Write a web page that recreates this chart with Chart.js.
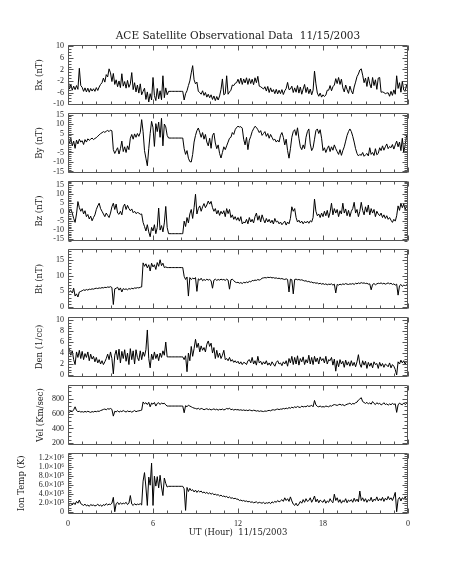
<!DOCTYPE html>
<html>
<head>
<meta charset="utf-8">
<script src="https://cdn.jsdelivr.net/npm/chart.js@4.4.1/dist/chart.umd.min.js"></script>
<style>
  body { margin: 0; background: #fff; }
  #wrap { position: relative; width: 453px; height: 566px; }
  #wrap canvas { position: absolute; left: 0; }
</style>
</head>
<body>
<div id="wrap"></div>
<script>
/* global Chart */
const title = "ACE Satellite Observational Data  11/15/2003";
const xTitle = "UT (Hour)  11/15/2003";
const xTickLabels = ["0", "6", "12", "18", "0"];

// one sample every 0.1 h, 0..24
const hours = [];
for (let i = 0; i <= 240; i++) hours.push(i / 10);

const bx = [
  -1.0, -4.8, -3.2, -5.2, -3.8, -5.0, -3.6, -4.9, 2.4, -3.6,
  -4.2, -5.6, -4.4, -5.8, -4.5, -5.9, -4.6, -5.5, -4.7, -5.6,
  -4.3, -5.3, -4.1, -3.2, -2.6, -1.0, -2.4, 0.2, -0.6, 2.2,
  0.8, -2.2, 0.6, -3.2, -1.6, -4.0, -2.0, -4.3, 0.5, -3.8,
  -2.2, -4.5, -1.8, -4.2, -3.0, 0.9, -5.0, -2.6, -5.8, -3.4,
  -6.2, -3.0, -6.8, -5.6, -4.5, -8.4, -5.8, -9.3, -6.4, -8.6,
  -0.8, -7.0, -8.8, -4.6, -8.2, -5.4, -8.5, -0.2, -7.8, -4.4,
  -6.8, -5.6, -5.6, -5.6, -5.6, -5.6, -5.6, -5.6, -5.6, -5.6,
  -5.6, -5.6, -8.6, -6.4, -5.4, -3.6, -2.0, 0.8, 3.3, -1.6,
  -3.0, -2.4, -5.6, -6.0, -6.6, -5.4, -7.0, -6.0, -7.6, -6.6,
  -7.8, -6.8, -8.4, -7.2, -8.8, -7.4, -8.6, -7.2, -5.0, -1.3,
  -6.8, -6.4, -0.2, -6.6, -5.8, -5.2, -3.4, -3.6, -2.8, -2.6,
  -1.4, -2.9, -1.0, -3.2, -1.3, -2.7, -0.9, -3.2, -1.2, -2.9,
  -1.4, -3.3, -0.9, -2.6, -0.4, -3.8, -4.0, -4.4, -4.8, -4.0,
  -5.5, -3.9, -6.0, -4.4, -5.8, -5.0, -6.4, -4.9, -6.5, -5.2,
  -6.4, -5.0, -6.7, -5.4, -4.6, -2.5, -5.0, -4.8, -3.8, -6.0,
  -4.4, -5.9, -3.6, -6.2, -4.1, -6.6, -4.8, -3.2, -6.0, -4.2,
  -6.4, -4.8, -6.8, -5.2, 1.4, -3.0, -6.2, -7.3, -6.2, -7.6,
  -6.8, -7.4, -6.9, -5.2, -5.2, -3.6, -5.4, -4.0, -3.4, -1.2,
  -2.9, -0.8, -3.2, -1.4, -4.4, -5.8, -3.4, -5.0, -6.3, -3.8,
  -5.4, -6.5, -4.1, -2.4, -0.5, 0.4, 1.8, 2.2, 0.0, -2.6,
  -1.0, -3.9, -0.6, -3.0, -4.4, -0.8, -3.6, -1.6, -4.9, -1.0,
  -0.8, -5.9, -5.8, -6.0, -6.4, -6.2, -6.1, -7.3, -5.6, -7.0,
  -5.1, -6.6, -0.2, -4.6, -2.6, -5.9, -2.1, -5.2, -5.6, -3.2,
  -5.5,
];

const by = [
  3.5, -0.5, 2.5, -1.5, 1.0, -2.8, 1.5, -0.5, 2.0, 0.5,
  1.2, -0.8, 1.8, 0.5, 2.2, 1.4, 2.0, 2.6, 1.8, 2.4,
  2.8, 3.6, 4.2, 5.0, 5.4, 6.0, 5.6, 6.2, 6.6, 6.0,
  6.8, 6.4, -3.5, -5.5, -4.0, -2.5, -5.8, -3.0, 1.0, -4.5,
  -2.0, -5.0, -1.5, -3.5, 2.5, 4.5, 2.0, 4.8, 3.0, 5.0,
  3.5, 5.5, 12.3, 6.0, -4.0, -8.0, -12.0, -3.0, 5.0, 11.4,
  8.0, -1.8, 10.2, 6.0, 11.0, 3.0, 13.0, -1.5, 10.0, 8.5,
  4.0, 2.6, 2.6, 2.6, 2.6, 2.6, 2.6, 2.6, 2.6, 2.6,
  2.6, 2.6, -3.0, -6.0, -4.0, -8.0, -9.8, -10.0, -6.0, 0.5,
  4.0, 6.5, 7.9, 5.5, 3.0, 5.5, 2.0, 4.5, 0.5, -1.5,
  2.5, -2.8, 4.0, 5.2, 0.0, -3.0, -1.0, -5.5, -7.9, -5.0,
  -2.0, -3.5, -1.5, 0.5, 2.5, 3.0, 5.5, 4.5, 7.0, 8.2,
  8.8, 8.4, 8.6, 7.8, 2.0, -1.0, 3.0, -3.5, 1.5, 3.5,
  6.0, 7.5, 8.8, 8.2, 7.0, 5.5, 6.5, 4.0, 5.0, 6.0,
  3.5, 5.0, 2.5, 4.5, 3.0, 1.5, 2.0, 0.5, 1.5, 0.5,
  4.0, 5.5, 3.0, -1.0, 2.0, -4.0, -8.0, -3.0, 3.0, 6.0,
  7.0, 4.0, 8.0, 2.5, -2.0, -3.5, -1.0, -3.0, 3.0, 6.0,
  7.4, -0.5, -4.0, -2.5, 2.0, 6.5, 7.4, 5.0, 7.0, 2.5,
  -4.0, -2.5, -5.0, -3.0, -1.5, -4.5, -2.0, -3.8, -1.0, -3.0,
  -4.5, -6.0, -3.5, -6.5, -4.0, -2.0, 1.0, 4.0, 6.0, 7.4,
  6.0, 3.5, 0.5, -3.0, -5.5, -6.8, -6.0, -6.5, -5.0, -7.0,
  -6.2, -5.5, -6.8, -2.5, -6.0, -5.0, -6.6, -3.0, -6.2, -5.5,
  -2.5, -4.0, -1.5, -3.8, -2.0, -0.5, -3.0, -1.8, -2.5, -0.8,
  -3.2, -1.0, 1.0, -2.0, 0.5, -4.0, 2.5, -5.0, -1.0, 3.8,
  1.5,
];

const bz = [
  1.5, 0.2, 1.8, -0.5, -3.5, -5.7, -1.0, 5.9, 2.5, 0.5,
  2.0, -1.0, 0.8, -2.5, -1.3, -3.8, -2.2, -4.8, -3.0, -1.5,
  1.5, 3.5, 5.0, 2.0, 0.5, -1.0, -2.5, -0.5, -1.8, -3.0,
  -0.5, 3.0, 5.0, 1.5, 4.5, -0.5, -1.2, 0.5, -1.5, 3.0,
  4.5, 1.5, 3.8, 2.0, 0.8, 1.8, -0.3, 0.5, -0.8, -0.2,
  -0.5, -1.2, -1.0, -5.7, -8.0, -10.5, -7.0, -11.0, -13.7, -8.5,
  -10.5, -7.0, -12.0, -8.5, 2.3, -10.0, -7.5, -11.0, -6.0, 3.2,
  -8.5, -12.0, -12.0, -12.0, -12.0, -12.0, -12.0, -12.0, -12.0, -12.0,
  -12.0, -12.0, -5.0, -8.0, -3.0, -6.0, -1.0, 1.5, -3.5, 2.5,
  10.0, -1.0, 2.0, 3.5, 0.5, 3.0, 4.8, 2.5, 4.0, 6.2,
  4.5, 6.0, 2.5, 0.5, 2.0, -1.0, 1.0, -1.8, 0.5, -1.0,
  0.8, -2.5, 2.0, -0.8, 1.5, -3.0, -1.5, -4.0, -2.5, -4.5,
  -3.0, -5.0, -2.5, -6.6, -5.5, -6.0, -4.0, -6.5, -3.0, -5.5,
  -4.0, -6.0, -2.5, -0.5, -4.5, -2.0, -5.5, -1.5, -4.0, -6.0,
  -3.5, -5.5, -4.0, -6.0, -4.5, -6.6, -3.5, -5.5, -5.0, -6.5,
  -5.5, -7.0, -6.0, -5.0, -7.2, -5.5, -6.5, -3.5, 3.0, 0.5,
  2.0, -3.0, -5.5, -4.5, -6.0, -5.0, -6.5, -5.2, -6.0, -5.0,
  -6.2, -4.8, -5.5, -3.0, 7.3, 0.5, -2.0, -1.0, -3.0, -0.5,
  -2.5, 0.5, -2.0, 1.0, -3.0, 0.0, 5.0, -1.5, 2.0, -0.5,
  1.5, -2.5, 0.8, -1.0, 5.0, -0.5, 1.8, -2.0, 1.0, -2.5,
  0.5, 2.0, 5.5, -0.5, 1.5, -2.5, 0.5, 5.5, 1.0, -1.5,
  3.0, 0.0, 4.0, -1.5, 2.0, -0.5, 1.5, -2.5, 0.5, -1.0,
  -2.0, -0.5, -3.0, -1.5, -3.5, -2.0, -4.0, -3.0, -4.5, -5.7,
  -4.0, -5.0, -2.0, 3.5, 1.0, 5.0, 2.5, 4.5, 1.5, 4.0,
  2.5,
];

const bt = [
  5.5, 4.8, 5.2, 4.5, 6.0, 3.5, 4.2, 3.2, 4.8, 5.0,
  5.2, 5.5, 5.3, 5.6, 5.4, 5.7, 5.6, 5.8, 5.7, 5.9,
  6.0, 5.9, 6.1, 6.0, 6.2, 6.1, 6.3, 6.2, 6.4, 6.3,
  6.5, 6.2, 0.8, 5.8, 6.0, 6.3, 5.4, 6.1, 4.8, 5.9,
  5.6, 5.8, 5.5, 5.9, 5.7, 6.0, 5.8, 6.1, 6.0, 6.2,
  6.1, 6.3, 6.4, 14.1, 13.0, 13.8, 12.5, 13.5, 11.5, 14.0,
  12.8, 13.5, 12.0, 14.2, 13.0, 15.1, 13.2, 14.0, 12.6, 12.8,
  12.6, 12.6, 12.6, 12.6, 12.6, 12.6, 12.6, 12.6, 12.6, 12.6,
  12.6, 12.6, 9.8, 8.8, 9.6, 3.5, 9.4, 8.8, 9.2, 9.0,
  9.4, 5.0, 9.0, 8.6, 9.2, 8.4, 8.8, 8.5, 8.9, 8.6,
  8.8, 8.4, 6.0, 8.6, 8.9, 8.5, 8.8, 8.6, 8.9, 8.7,
  8.8, 8.5, 8.9, 8.6, 5.7, 8.7, 8.9, 8.4, 8.0, 7.8,
  7.9, 7.6, 7.8, 7.5, 7.9, 7.7, 8.0, 7.8, 8.2, 8.0,
  8.5, 8.4, 8.6, 8.5, 8.8, 8.6, 8.8, 9.2, 9.3, 9.4,
  9.3, 9.5, 9.4, 9.5, 9.3, 9.4, 9.2, 9.3, 9.1, 9.2,
  9.0, 9.1, 8.9, 8.8, 9.0, 8.8, 4.8, 8.9, 8.7, 4.2,
  8.8, 8.9, 8.7, 8.8, 8.6, 8.7, 8.5, 8.3, 8.4, 8.1,
  8.2, 7.9, 8.0, 7.7, 7.8, 7.6, 7.7, 7.4, 7.6, 7.3,
  7.5, 7.2, 7.4, 7.1, 7.3, 7.2, 7.4, 7.0, 7.3, 4.5,
  7.2, 7.0, 7.3, 7.1, 7.4, 7.2, 7.5, 7.3, 7.2, 7.4,
  7.3, 7.5, 7.2, 7.6, 7.4, 7.7, 7.5, 7.8, 7.6, 7.7,
  7.5, 7.6, 7.3, 7.4, 5.5, 7.2, 7.5, 7.1, 7.4, 7.6,
  7.5, 7.7, 7.4, 7.6, 7.3, 7.5, 7.7, 7.4, 7.6, 7.2,
  7.4, 7.0, 7.3, 3.8, 6.8, 7.2, 6.6, 7.0, 6.8, 7.1,
  7.0,
];

const den = [
  5.3, 4.6, 3.6, 4.4, 2.8, 1.9, 4.2, 3.2, 4.5, 3.0,
  4.3, 2.8, 3.9, 3.2, 4.2, 2.6, 3.8, 2.9, 3.4, 2.4,
  3.2, 2.2, 2.8, 2.0, 2.6, 1.9, 2.4, 3.0, 3.8, 2.8,
  4.2, 3.0, 0.2, 3.6, 4.5, 2.8, 4.7, 2.2, 4.3, 3.0,
  4.6, 2.5, 4.0, 1.9, 4.8, 2.8, 4.4, 2.0, 4.6, 3.2,
  2.6, 4.4, 2.8, 4.2, 3.4, 4.6, 8.2, 3.0, 1.3, 3.8,
  2.8, 4.2, 3.0, 3.8, 2.6, 4.0, 3.2, 4.4, 3.6, 6.0,
  3.3, 3.3, 3.3, 3.3, 3.3, 3.3, 3.3, 3.3, 3.3, 3.3,
  3.3, 3.3, 2.8, 3.5, 0.6, 4.0, 2.6, 5.2, 3.4, 4.8,
  6.5, 5.0, 5.8, 4.2, 5.3, 4.5, 5.0, 4.2, 5.6, 6.2,
  5.2, 5.8, 4.0, 5.0, 3.0, 4.5, 3.2, 4.0, 3.0, 3.6,
  4.5, 2.8, 3.0, 2.6, 3.2, 2.5, 2.8, 2.3, 2.6, 2.2,
  2.5, 2.0, 2.4, 1.9, 2.3, 2.2, 1.9, 2.6, 2.8, 2.2,
  3.2, 2.0, 2.6, 1.8, 3.4, 2.2, 2.5, 1.9, 2.4, 2.0,
  2.6, 1.8, 2.2, 1.7, 2.4, 2.0, 1.6, 2.3, 2.6, 2.0,
  2.2, 1.7, 2.4, 2.0, 2.6, 1.6, 3.0, 2.2, 3.4, 1.9,
  3.2, 2.0, 3.5, 1.8, 3.0, 2.4, 3.3, 1.9, 2.8, 2.2,
  3.6, 2.0, 3.2, 1.9, 3.4, 2.4, 3.1, 2.0, 3.3, 2.6,
  3.0, 2.2, 3.4, 2.0, 2.8, 2.6, 3.2, 1.8, 2.9, 0.7,
  2.6, 1.5, 2.8, 2.0, 2.5, 1.4, 2.7, 1.8, 2.4, 1.6,
  2.6, 1.7, 2.3, 1.5, 2.4, 3.7, 2.0, 1.4, 2.6, 1.8,
  2.5, 1.2, 2.3, 1.6, 2.2, 1.3, 2.4, 1.9, 2.1, 1.2,
  2.3, 1.6, 2.1, 1.4, 2.0, 1.8, 1.5, 2.2, 1.3, 1.9,
  1.6, 1.0, 0.0, 2.4, 2.0, 2.7, 2.2, 2.6, 2.0, 2.5,
  2.2,
];

const vel = [
  640, 615, 630, 625, 650, 690, 640, 625, 630, 620,
  625, 618, 628, 620, 630, 622, 615, 626, 620, 630,
  624, 632, 628, 640, 646, 655, 660, 650, 665, 658,
  668, 655, 565, 630, 622, 638, 618, 632, 625, 640,
  628, 620, 635, 625, 630, 618, 628, 640, 624, 632,
  636, 640, 645, 755, 730, 745, 720, 750, 690, 740,
  725, 748, 700, 735, 745, 720, 742, 730, 738, 715,
  700, 700, 700, 700, 700, 700, 700, 700, 700, 700,
  700, 700, 610, 705, 690, 712, 700, 690, 680, 672,
  668, 660, 670, 655, 668, 662, 650, 658, 665, 652,
  660, 648, 655, 662, 650, 658, 645, 656, 650, 660,
  648, 655, 668, 660, 672, 650, 658, 646, 655, 650,
  652, 645, 650, 642, 648, 640, 645, 638, 648, 642,
  636, 644, 640, 632, 638, 628, 635, 630, 626, 634,
  630, 638, 642, 636, 648, 650, 645, 655, 660, 652,
  660, 658, 668, 662, 672, 665, 680, 670, 685, 675,
  690, 680, 695, 685, 680, 700, 688, 695, 690, 705,
  695, 700, 710, 690, 775, 715, 695, 690, 700, 688,
  692, 688, 700, 695, 690, 705, 698, 712, 720, 715,
  708, 718, 725, 712, 720, 705, 715, 725, 730, 740,
  720, 735, 728, 745, 752, 780, 795, 812, 760, 748,
  735, 750, 728, 742, 725, 760, 735, 720, 745, 728,
  738, 715, 725, 745, 720, 730, 712, 728, 718, 735,
  722, 730, 615, 715, 740, 725, 718, 742, 720, 735,
  725,
];

const ionTemp = [
  2.2e5, 1.8e5, 2.0e5, 1.6e5, 2.1e5, 1.7e5, 2.4e5, 2.0e5, 2.7e5, 1.9e5,
  1.7e5, 1.5e5, 1.8e5, 1.4e5, 1.6e5, 1.3e5, 1.7e5, 1.5e5, 1.6e5, 1.4e5,
  1.5e5, 1.8e5, 1.4e5, 1.6e5, 1.3e5, 1.7e5, 1.5e5, 1.9e5, 1.6e5, 1.8e5,
  1.7e5, 2.0e5, 3.3e5, 0.1e5, 1.9e5, 2.2e5, 1.7e5, 2.1e5, 1.8e5, 2.0e5,
  1.9e5, 2.2e5, 1.7e5, 2.0e5, 3.7e5, 1.8e5, 1.5e5, 1.9e5, 1.6e5, 1.8e5,
  1.7e5, 1.9e5, 1.6e5, 6.9e5, 8.8e5, 5.6e5, 1.5e5, 7.8e5, 6.0e5, 10.9e5,
  1.5e5, 8.0e5, 5.8e5, 7.9e5, 5.4e5, 8.2e5, 5.6e5, 3.7e5, 7.6e5, 6.4e5,
  5.6e5, 5.75e5, 5.75e5, 5.75e5, 5.75e5, 5.75e5, 5.75e5, 5.75e5, 5.75e5, 5.75e5,
  5.75e5, 5.75e5, 5.2e5, 0.4e5, 5.5e5, 4.6e5, 5.3e5, 4.8e5, 5.0e5, 4.5e5,
  4.9e5, 4.4e5, 4.8e5, 4.5e5, 4.7e5, 4.3e5, 4.5e5, 4.2e5, 4.4e5, 4.1e5,
  4.3e5, 4.0e5, 4.2e5, 3.9e5, 4.0e5, 3.8e5, 3.9e5, 3.6e5, 3.8e5, 3.5e5,
  3.6e5, 3.4e5, 3.5e5, 3.2e5, 3.4e5, 3.1e5, 3.2e5, 3.0e5, 3.1e5, 2.9e5,
  2.9e5, 2.6e5, 2.7e5, 2.5e5, 2.6e5, 2.4e5, 2.5e5, 2.3e5, 2.4e5, 2.2e5,
  2.3e5, 2.1e5, 2.2e5, 2.3e5, 2.0e5, 2.2e5, 2.1e5, 2.0e5, 2.2e5, 1.9e5,
  2.1e5, 2.0e5, 2.2e5, 1.9e5, 2.3e5, 2.1e5, 2.4e5, 2.2e5, 2.6e5, 2.3e5,
  2.5e5, 2.8e5, 2.4e5, 3.2e5, 2.6e5, 3.0e5, 2.4e5, 3.4e5, 2.5e5, 1.8e5,
  1.5e5, 2.0e5, 1.4e5, 1.8e5, 2.4e5, 2.0e5, 2.8e5, 2.2e5, 3.0e5, 2.4e5,
  2.6e5, 3.2e5, 2.2e5, 2.8e5, 3.6e5, 2.3e5, 2.9e5, 2.1e5, 2.7e5, 2.4e5,
  2.2e5, 2.8e5, 2.0e5, 2.5e5, 2.2e5, 3.0e5, 2.4e5, 2.1e5, 4.0e5, 2.6e5,
  3.2e5, 2.2e5, 2.8e5, 2.0e5, 2.6e5, 2.3e5, 3.0e5, 2.1e5, 2.7e5, 2.4e5,
  2.8e5, 2.2e5, 3.1e5, 2.4e5, 2.9e5, 2.3e5, 4.7e5, 2.6e5, 3.2e5, 2.4e5,
  3.0e5, 2.2e5, 2.8e5, 2.5e5, 3.3e5, 2.3e5, 2.9e5, 2.6e5, 3.4e5, 2.5e5,
  3.0e5, 2.6e5, 3.3e5, 2.4e5, 3.1e5, 2.7e5, 3.5e5, 2.8e5, 3.2e5, 2.6e5,
  3.4e5, 4.4e5, 0.1e5, 2.8e5, 3.3e5, 2.5e5, 3.2e5, 2.9e5, 3.4e5, 2.8e5,
  3.0e5,
];

// y tick values and their labels, one list per panel
const bxTicks = [10, 6, 2, -2, -6, -10];
const byTicks = [15, 10, 5, 0, -5, -10, -15];
const bzTicks = [15, 10, 5, 0, -5, -10, -15];
const btTicks = [15, 10, 5, 0];
const denTicks = [10, 8, 6, 4, 2, 0];
const velTicks = [800, 600, 400, 200];
const tempTicks = [1.2e6, 1.0e6, 8e5, 6e5, 4e5, 2e5, 0];
const tempTickLabels = ["1.2×10⁶", "1.0×10⁶", "8.0×10⁵", "6.0×10⁵", "4.0×10⁵", "2.0×10⁵", "0"];

const panels = [
  { name: "Bx (nT)", data: bx, min: -10.4, max: 10.6, ticks: bxTicks, minor: 1, titleX: 40 },
  { name: "By (nT)", data: by, min: -15.9, max: 15.9, ticks: byTicks, minor: 1, titleX: 40 },
  { name: "Bz (nT)", data: bz, min: -16.2, max: 17.5, ticks: bzTicks, minor: 1, titleX: 40 },
  { name: "Bt (nT)", data: bt, min: -0.7, max: 18.6, ticks: btTicks, minor: 1, titleX: 40 },
  { name: "Den (1/cc)", data: den, min: -0.4, max: 10.6, ticks: denTicks, minor: 0.5, titleX: 40 },
  { name: "Vel (Km/sec)", data: vel, min: 175, max: 985, ticks: velTicks, minor: 50, titleX: 41 },
  { name: "Ion Temp (K)", data: ionTemp, min: -4e4, max: 1.32e6, ticks: tempTicks, minor: 5e4, labels: tempTickLabels, titleX: 22 },
];

const FONT = "DejaVu Serif";
const TICK_FONT = "Liberation Serif";
const TEXT = "#222";
const INK = "#000";
const AXIS = "#555";
const PLOT_LEFT = 68;
const PLOT_RIGHT = 408;
const FIRST_TOP = 44;
const PITCH = 68;
const PANEL_H = 62;
const W = 453;
const H = 566;

// frame with inward major/minor ticks on all four sides
const framePlugin = {
  id: "frame",
  afterDraw(chart, args, opts) {
    const { ctx, chartArea: a, scales } = chart;
    const xs = scales.x;
    const ys = scales.y;
    const l = Math.round(a.left) + 0.5;
    const r = Math.round(a.right) - 0.5;
    const t = Math.round(a.top) + 0.5;
    const b = Math.round(a.bottom) - 0.5;
    ctx.save();
    ctx.strokeStyle = AXIS;
    ctx.lineWidth = 1;
    ctx.beginPath();
    ctx.rect(l, t, r - l, b - t);
    for (let h = 0; h <= 24; h++) {
      const px = Math.round(xs.getPixelForValue(h)) + 0.5;
      const len = h % 6 === 0 ? 5 : 3;
      ctx.moveTo(px, b); ctx.lineTo(px, b - len);
      ctx.moveTo(px, t); ctx.lineTo(px, t + len);
    }
    const step = opts.minor;
    const first = Math.ceil(ys.min / step) * step;
    for (let v = first; v <= ys.max + 1e-9; v += step) {
      const py = Math.round(ys.getPixelForValue(v)) + 0.5;
      const major = opts.ticks.some((m) => Math.abs(m - v) < step / 10);
      const len = major ? 5 : 3;
      ctx.moveTo(l, py); ctx.lineTo(l + len, py);
      ctx.moveTo(r, py); ctx.lineTo(r - len, py);
    }
    ctx.stroke();
    ctx.restore();
  },
};

const wrap = document.getElementById("wrap");

panels.forEach((p, i) => {
  const top = FIRST_TOP + PITCH * i;
  const first = i === 0;
  const last = i === panels.length - 1;
  const cTop = first ? 0 : top - 8;
  const cBottom = last ? H : top + PANEL_H + 8;

  const canvas = document.createElement("canvas");
  canvas.width = W;
  canvas.height = cBottom - cTop;
  canvas.style.top = cTop + "px";
  wrap.appendChild(canvas);

  new Chart(canvas, {
    type: "line",
    plugins: [framePlugin],
    data: {
      labels: hours,
      datasets: [
        {
          data: p.data,
          borderColor: INK,
          borderWidth: 1,
          pointRadius: 0,
          tension: 0,
        },
      ],
    },
    options: {
      animation: false,
      responsive: false,
      events: [],
      layout: {
        padding: { left: 0, right: W - PLOT_RIGHT, top: first ? 5 : 8, bottom: last ? 0 : 8 },
      },
      plugins: {
        legend: { display: false },
        tooltip: { enabled: false },
        title: {
          display: first,
          fullSize: false,
          text: title,
          color: TEXT,
          font: { family: FONT, size: 10.5, weight: "normal" },
          padding: { top: 25, bottom: 2 },
        },
        frame: { ticks: p.ticks, minor: p.minor },
      },
      scales: {
        x: {
          type: "linear",
          min: 0,
          max: 24,
          display: last,
          grid: { display: false, drawTicks: false },
          border: { display: false },
          afterBuildTicks: (s) => {
            s.ticks = [0, 6, 12, 18, 24].map((v) => ({ value: v }));
          },
          afterFit: (s) => {
            if (last) s.height = H - (top + PANEL_H);
          },
          ticks: {
            color: TEXT,
            font: { family: TICK_FONT, size: 8 },
            padding: 5,
            maxRotation: 0,
            autoSkip: false,
            callback: (v, idx) => xTickLabels[idx],
          },
          title: {
            display: true,
            text: xTitle,
            color: TEXT,
            font: { family: FONT, size: 8.5 },
            padding: { top: 0, bottom: 28 },
          },
        },
        y: {
          min: p.min,
          max: p.max,
          grid: { display: false, drawTicks: false },
          border: { display: false },
          afterBuildTicks: (s) => {
            s.ticks = p.ticks.map((v) => ({ value: v }));
          },
          afterFit: (s) => {
            s.width = PLOT_LEFT;
          },
          ticks: {
            color: TEXT,
            font: { family: TICK_FONT, size: 8 },
            padding: 4,
            autoSkip: false,
            callback: (v, idx) => (p.labels ? p.labels[idx] : String(v)),
          },
          title: {
            display: true,
            text: p.name,
            color: TEXT,
            font: { family: FONT, size: 8.5 },
            padding: { top: p.titleX - 5, bottom: 0 },
          },
        },
      },
    },
  });
});
</script>
</body>
</html>
